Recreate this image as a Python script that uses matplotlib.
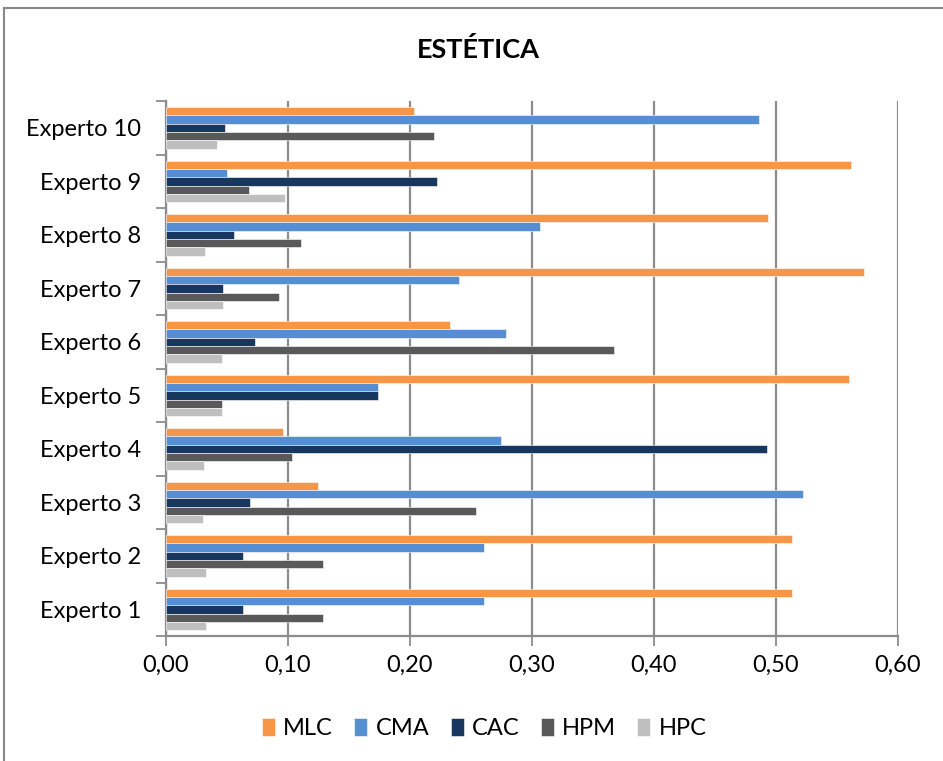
import numpy as np
import matplotlib
matplotlib.use("Agg")
import matplotlib.pyplot as plt
from matplotlib.lines import Line2D
from matplotlib.ticker import FuncFormatter

plt.rcParams["font.family"] = ["Lato", "DejaVu Sans"]

expertos = ["Experto 1", "Experto 2", "Experto 3", "Experto 4", "Experto 5",
            "Experto 6", "Experto 7", "Experto 8", "Experto 9", "Experto 10"]
series = ["MLC", "CMA", "CAC", "HPM", "HPC"]
mlc = [0.513, 0.513, 0.125, 0.096, 0.560, 0.233, 0.572, 0.494, 0.562, 0.203]
cma = [0.261, 0.261, 0.522, 0.275, 0.174, 0.279, 0.240, 0.307, 0.050, 0.486]
cac = [0.063, 0.063, 0.069, 0.493, 0.174, 0.073, 0.047, 0.056, 0.222, 0.048]
hpm = [0.129, 0.129, 0.254, 0.103, 0.046, 0.367, 0.093, 0.111, 0.068, 0.220]
hpc = [0.033, 0.033, 0.030, 0.031, 0.046, 0.046, 0.047, 0.032, 0.098, 0.042]
colors = ["#F79646", "#558ED5", "#17375E", "#595959", "#BFBFBF"]

fig = plt.figure(figsize=(9.43, 7.61), dpi=100)
ax = fig.add_axes([0.176, 0.164, 0.776, 0.703])

y = np.arange(len(expertos))
h = 0.156
for k, (name, vals, col) in enumerate(zip(series, [mlc, cma, cac, hpm, hpc], colors)):
    off = (2 - k) * h
    ax.barh(y + off, vals, height=h, color=col, label=name, zorder=3,
            edgecolor="white", linewidth=0.4)

grid_col = "#8C8C8C"
ax.set_xlim(0, 0.6)
ax.set_ylim(-0.5, 9.5)
ax.set_xticks(np.arange(0, 0.61, 0.1))
ax.xaxis.set_major_formatter(FuncFormatter(lambda v, p: f"{v:.2f}".replace(".", ",")))
ax.grid(axis="x", color=grid_col, lw=1.6, zorder=0)

ax.set_yticks(np.arange(-0.5, 10, 1))
ax.set_yticklabels([])
ax.set_yticks(y, minor=True)
ax.set_yticklabels(expertos, minor=True)
ax.tick_params(axis="y", which="major", length=7, width=1.3, color=grid_col, direction="out")
ax.tick_params(axis="y", which="minor", length=0, pad=18, labelsize=17)
ax.tick_params(axis="x", length=7, width=1.3, color=grid_col, direction="out", pad=6.5, labelsize=17)

for s in ["top", "right"]:
    ax.spines[s].set_visible(False)
for s in ["left", "bottom"]:
    ax.spines[s].set_color(grid_col)
    ax.spines[s].set_linewidth(1.6)

fig.text(0.507, 0.935, "ESTÉTICA", ha="center", va="center", fontsize=19.5, fontweight="bold")

ax.legend(loc="center", bbox_to_anchor=(0.435, -0.173), ncol=5, frameon=False,
          fontsize=17, handlelength=0.55, handleheight=0.75, handletextpad=0.35,
          columnspacing=0.9)

# outer frame of the chart area
fig.add_artist(Line2D([0.0045, 0.0045], [0, 0.989], color="#888888", lw=1.5))
fig.add_artist(Line2D([0.0045, 1], [0.989, 0.989], color="#888888", lw=1.5))

fig.savefig("out.png", dpi=100)
